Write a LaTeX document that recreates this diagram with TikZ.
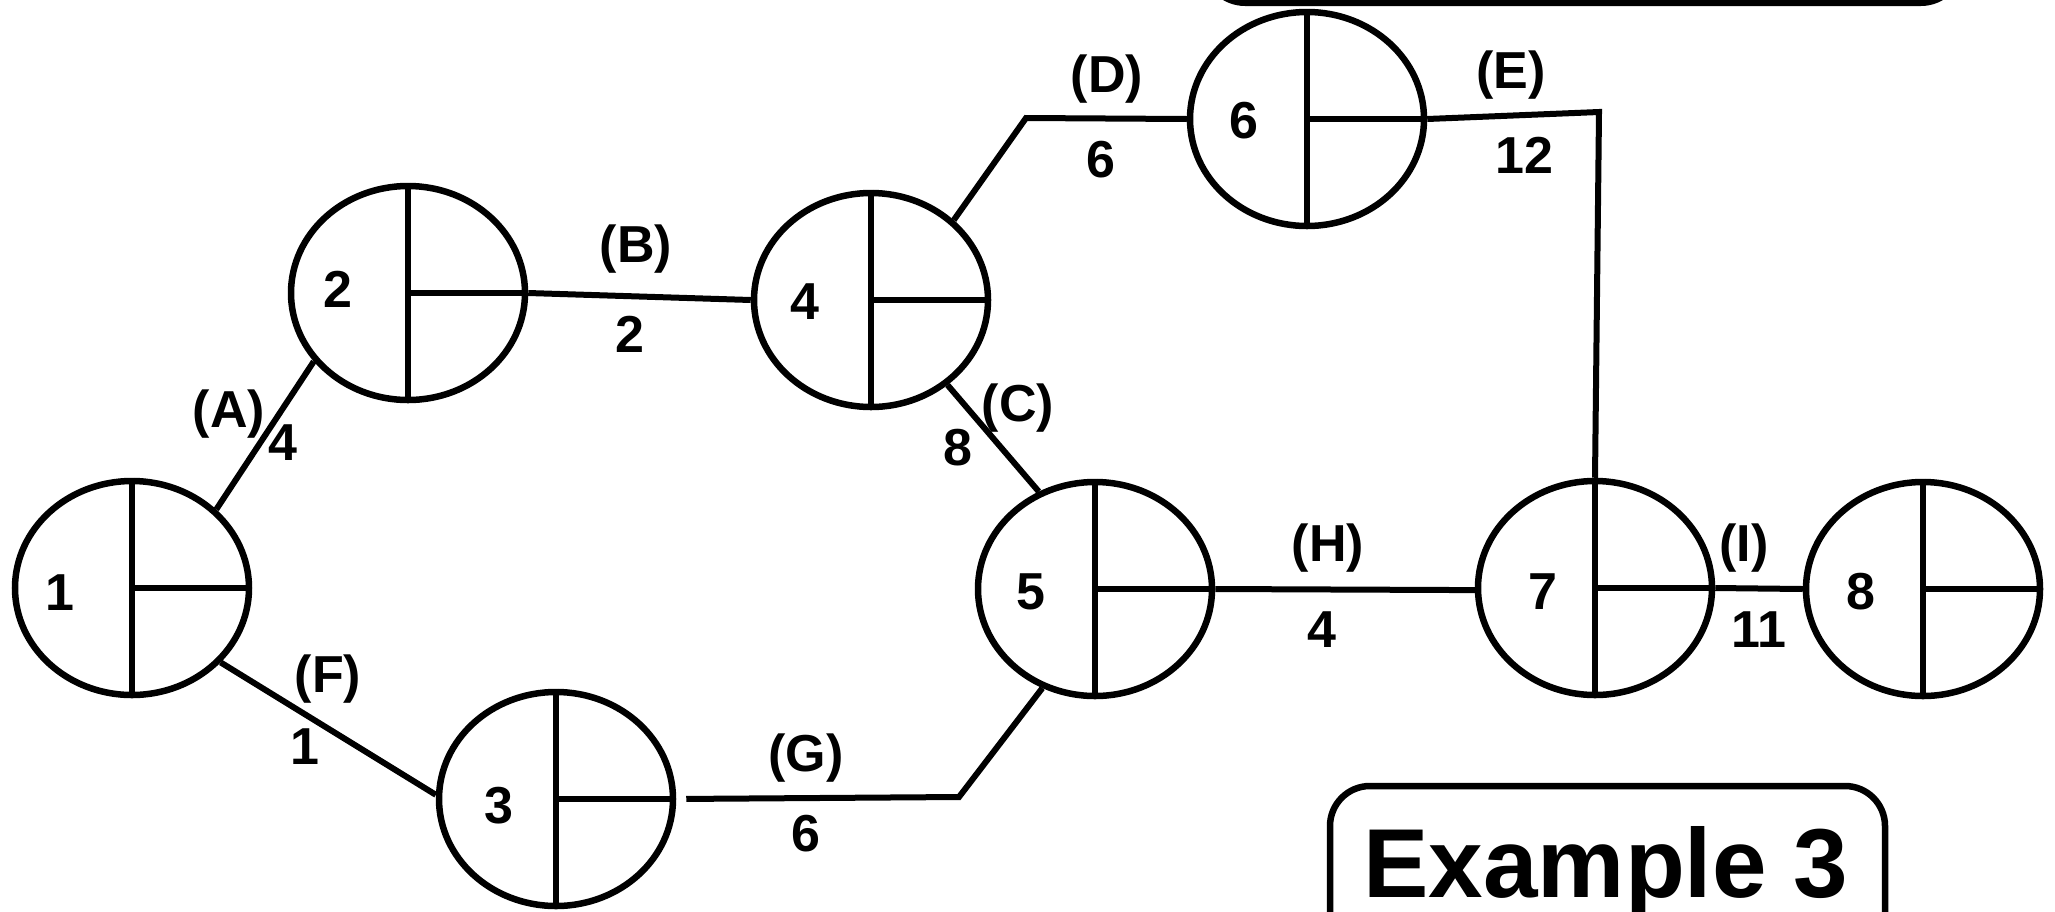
\documentclass[tikz,border=0pt]{standalone}
\usepackage{fontspec}
\setmainfont{Liberation Sans}
\usetikzlibrary{shapes.geometric}
\begin{document}
\begin{tikzpicture}[x=0.5pt,y=-0.5pt,
  evt/.style={ellipse, draw, line width=3.25pt, minimum width=117pt, minimum height=107pt, inner sep=0pt},
  lnk/.style={line width=3pt},
  inl/.style={line width=3.2pt},
  lbl/.style={font=\bfseries\fontsize{26}{26}\selectfont, inner sep=0pt},
  big/.style={font=\bfseries\fontsize{49}{49}\selectfont, inner sep=0pt, anchor=base}]
\useasboundingbox (0,0) rectangle (2055,911);
\clip (0,0) rectangle (2055,911);
\fill[white] (0,0) rectangle (2055,911);
% top box (cut off)
\draw[line width=3pt, rounded corners=20pt] (1205,-200) rectangle (1961,3);
% events
\node[evt] (n1) at (132,588) {};
\node[evt] (n2) at (408,293) {};
\node[evt] (n3) at (556,799) {};
\node[evt] (n4) at (871,300) {};
\node[evt] (n5) at (1095,589) {};
\node[evt] (n6) at (1307,119) {};
\node[evt] (n7) at (1595,588) {};
\node[evt] (n8) at (1923,589) {};
\foreach \n in {n1,n2,n3,n4,n5,n6,n7,n8}{
  \draw[inl] (\n.north) -- (\n.south);
  \draw[inl] (\n.center) -- (\n.east);
}
% event numbers
\node[lbl] (t1) at (60,593) {1};
\node[lbl] (t2) at (338,289) {2};
\node[lbl] (t3) at (499,806) {3};
\node[lbl] (t4) at (805,302) {4};
\node[lbl] (t5) at (1031,592) {5};
\node[lbl] (t6) at (1244,121) {6};
\node[lbl] (t7) at (1543,592) {7};
\node[lbl] (t8) at (1861,592) {8};
% bend points
\coordinate (dB) at (1026,118);
\coordinate (eB) at (1599,112);
\coordinate (gB) at (959,797);
% activities
\draw[lnk] (n1.43) -- (n2.216);
\draw[lnk] (n2.east) -- (n4.west);
\draw[lnk] (n4.312) -- (n5.120);
\draw[lnk] (n4.44) -- (dB) -- (n6.west);
\draw[lnk] (n6.east) -- (eB) -- (n7.north);
\draw[lnk] (n1.320) -- (n3.178);
\draw[lnk, shorten <=5pt] (n3.east) -- (gB) -- (n5.242);
\draw[lnk] (n5.east) -- (n7.181);
\draw[lnk] (n7.east) -- (n8.west);
% activity labels
\node[lbl] (la) at (229,414) {(A)};
\node[lbl] (da) at (283,443) {4};
\node[lbl] (lb) at (636,249) {(B)};
\node[lbl] (db) at (630,334) {2};
\node[lbl] (lc) at (1018,408) {(C)};
\node[lbl] (dc) at (958,448) {8};
\node[lbl] (ld) at (1107,79) {(D)};
\node[lbl] (dd) at (1101,160) {6};
\node[lbl] (le) at (1511,75) {(E)};
\node[lbl] (de) at (1524,155) {12};
\node[lbl] (lf) at (328,679) {(F)};
\node[lbl] (df) at (305,747) {1};
\node[lbl] (lg) at (806,758) {(G)};
\node[lbl] (dg) at (806,834) {6};
\node[lbl] (lh) at (1328,548) {(H)};
\node[lbl] (dh) at (1322,630) {4};
\node[lbl] (li) at (1744,548) {(I)};
\node[lbl] (di) at (1759,630) {11};
% example box
\draw[line width=3.25pt, rounded corners=20pt] (1330,1050) -- (1330,786) -- (1885,786) -- (1885,1050);
\node[big] (ex) at (1606,897) {Example 3};
\end{tikzpicture}
\end{document}
